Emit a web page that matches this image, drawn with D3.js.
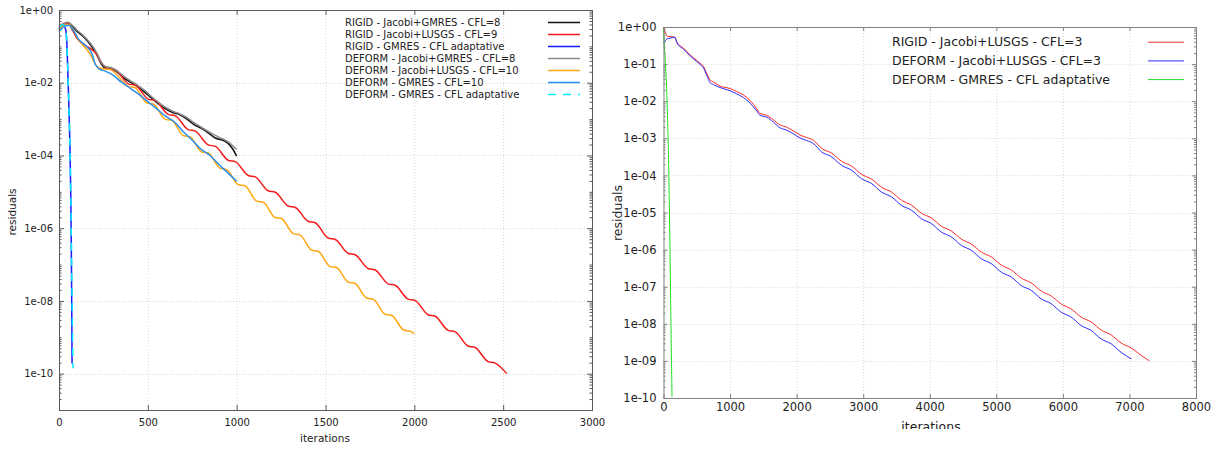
<!DOCTYPE html>
<html>
<head>
<meta charset="utf-8">
<script src="https://cdn.jsdelivr.net/npm/d3@7"></script>
<style>
  html, body { margin: 0; padding: 0; background: #fff; }
  svg { display: block; font-family: "DejaVu Sans", sans-serif; }
</style>
</head>
<body>
<svg id="chart" width="1230" height="449"></svg>
<script>
// ---------- Left panel: convergence histories (iterations vs residuals) ----------
const leftXTicks = [0, 500, 1000, 1500, 2000, 2500, 3000];
const leftYTicks = [1, 1e-2, 1e-4, 1e-6, 1e-8, 1e-10];

const rigidJacGmresIter = [0, 25, 50, 75, 100, 130, 160, 190, 215, 240, 260, 290, 320, 360, 400, 440, 480, 520, 560, 600, 640, 680, 720, 760, 800, 840, 880, 920, 950, 975, 1000];
const rigidJacGmresRes  = [0.316, 0.398, 0.437, 0.355, 0.263, 0.200, 0.141, 8.91e-2, 5.62e-2, 3.16e-2, 2.51e-2, 2.40e-2, 2.09e-2, 1.41e-2, 1.05e-2, 7.94e-3, 5.62e-3, 3.80e-3, 2.63e-3, 1.91e-3, 1.51e-3, 1.32e-3, 1.0e-3, 7.08e-4, 5.62e-4, 4.17e-4, 3.02e-4, 2.63e-4, 2.19e-4, 1.58e-4, 9.55e-5];

const rigidLusgsIter = [0, 25, 50, 75, 100, 150, 200, 250, 277, 317, 390, 430, 502, 542, 615, 655, 727, 767, 840, 880, 952, 992, 1065, 1105, 1177, 1217, 1290, 1330, 1402, 1442, 1515, 1555, 1627, 1667, 1740, 1780, 1852, 1892, 1965, 2005, 2077, 2117, 2190, 2230, 2302, 2342, 2415, 2455, 2520];
const rigidLusgsRes  = [0.355, 0.427, 0.437, 0.282, 0.170, 0.105, 7.08e-2, 3.02e-2, 2.45e-2, 2.24e-2, 9.33e-3, 8.51e-3, 3.55e-3, 3.24e-3, 1.35e-3, 1.23e-3, 5.13e-4, 4.68e-4, 1.95e-4, 1.78e-4, 7.41e-5, 6.76e-5, 2.82e-5, 2.57e-5, 1.07e-5, 9.77e-6, 4.07e-6, 3.72e-6, 1.55e-6, 1.41e-6, 5.37e-7, 4.90e-7, 2.04e-7, 1.86e-7, 7.76e-8, 7.08e-8, 2.95e-8, 2.69e-8, 1.12e-8, 1.02e-8, 4.17e-9, 3.80e-9, 1.55e-9, 1.41e-9, 5.75e-10, 5.25e-10, 2.14e-10, 1.95e-10, 1.0e-10];

const rigidGmresAdaptIter = [0, 10, 20, 30, 38, 45, 51, 57, 62, 66, 69, 71, 72.5, 73.5];
const rigidGmresAdaptRes  = [0.302, 0.355, 0.380, 0.355, 0.282, 0.1, 1.17e-2, 1.26e-3, 1.38e-4, 1.0e-5, 5.01e-7, 2.51e-8, 1.58e-9, 1.91e-10];

const deformJacGmresIter = [0, 25, 50, 75, 100, 130, 160, 190, 215, 240, 260, 290, 320, 360, 400, 440, 480, 520, 560, 600, 640, 680, 720, 760, 800, 840, 880, 920, 950, 975, 1000];
const deformJacGmresRes  = [0.355, 0.417, 0.457, 0.380, 0.282, 0.214, 0.151, 0.1, 6.31e-2, 3.55e-2, 2.82e-2, 2.63e-2, 2.24e-2, 1.58e-2, 1.15e-2, 8.71e-3, 6.31e-3, 4.17e-3, 2.88e-3, 2.09e-3, 1.66e-3, 1.38e-3, 1.10e-3, 7.94e-4, 6.03e-4, 4.57e-4, 3.55e-4, 2.88e-4, 2.40e-4, 1.91e-4, 1.45e-4];

const deformLusgsIter = [0, 30, 55, 80, 110, 150, 180, 205, 230, 290, 390, 430, 493, 533, 596, 636, 699, 739, 802, 842, 905, 945, 1008, 1048, 1111, 1151, 1214, 1254, 1318, 1358, 1421, 1461, 1524, 1564, 1627, 1667, 1730, 1770, 1833, 1873, 1940, 1980, 2000];
const deformLusgsRes  = [0.282, 0.380, 0.398, 0.282, 0.151, 8.91e-2, 5.62e-2, 3.16e-2, 2.51e-2, 2.29e-2, 7.94e-3, 7.24e-3, 2.82e-3, 2.57e-3, 1.0e-3, 9.12e-4, 3.55e-4, 3.24e-4, 1.26e-4, 1.15e-4, 4.47e-5, 4.07e-5, 1.58e-5, 1.45e-5, 5.62e-6, 5.13e-6, 2.00e-6, 1.82e-6, 7.08e-7, 6.46e-7, 2.51e-7, 2.29e-7, 8.91e-8, 8.13e-8, 3.31e-8, 3.02e-8, 1.20e-8, 1.10e-8, 4.37e-9, 3.98e-9, 1.58e-9, 1.45e-9, 1.23e-9];

const deformGmresIter = [0, 30, 55, 80, 110, 150, 185, 205, 225, 260, 300, 350, 400, 450, 500, 550, 600, 650, 700, 750, 800, 850, 900, 950, 1000];
const deformGmresRes  = [0.251, 0.355, 0.380, 0.282, 0.158, 0.105, 6.31e-2, 3.16e-2, 2.40e-2, 2.09e-2, 1.66e-2, 1.05e-2, 7.08e-3, 4.79e-3, 3.02e-3, 1.91e-3, 1.20e-3, 8.32e-4, 4.47e-4, 2.63e-4, 1.48e-4, 1.0e-4, 5.62e-5, 3.31e-5, 1.95e-5];

const deformGmresAdaptIter = [0, 10, 20, 30, 38, 45, 51, 57, 62, 66, 70, 73, 75, 77, 79];
const deformGmresAdaptRes  = [0.316, 0.372, 0.398, 0.372, 0.282, 0.1, 1.17e-2, 1.26e-3, 1.38e-4, 1.0e-5, 3.16e-7, 1.58e-8, 2.51e-9, 5.01e-10, 1.41e-10];

const leftLabels = [
  "RIGID - Jacobi+GMRES - CFL=8",
  "RIGID - Jacobi+LUSGS - CFL=9",
  "RIGID - GMRES - CFL adaptative",
  "DEFORM - Jacobi+GMRES - CFL=8",
  "DEFORM - Jacobi+LUSGS - CFL=10",
  "DEFORM - GMRES - CFL=10",
  "DEFORM - GMRES - CFL adaptative"
];

// ---------- Right panel ----------
const rightXTicks = [0, 1000, 2000, 3000, 4000, 5000, 6000, 7000, 8000];
const rightYTicks = [1, 1e-1, 1e-2, 1e-3, 1e-4, 1e-5, 1e-6, 1e-7, 1e-8, 1e-9, 1e-10];

const rigidLusgs3Iter = [0, 40, 70, 120, 173, 200, 300, 400, 500, 550, 600, 650, 700, 750, 850, 1000, 1100, 1200, 1300, 1400, 1450, 1550, 1650, 1750, 1850, 1950, 2050, 2150, 2250, 2376, 2526, 2676, 2826, 2976, 3126, 3276, 3426, 3576, 3726, 3876, 4026, 4176, 4326, 4476, 4626, 4776, 4926, 5076, 5226, 5376, 5526, 5676, 5826, 5976, 6126, 6276, 6426, 6576, 6726, 6876, 7026, 7176, 7300];
const rigidLusgs3Res  = [0.955, 0.631, 0.550, 0.550, 0.525, 0.398, 0.269, 0.178, 0.126, 0.105, 8.71e-2, 5.62e-2, 3.72e-2, 3.31e-2, 2.57e-2, 2.19e-2, 1.82e-2, 1.48e-2, 1.05e-2, 6.31e-3, 4.68e-3, 4.17e-3, 3.16e-3, 2.29e-3, 2.0e-3, 1.58e-3, 1.23e-3, 1.05e-3, 8.91e-4, 5.37e-4, 3.98e-4, 2.40e-4, 1.78e-4, 1.07e-4, 7.94e-5, 4.79e-5, 3.55e-5, 2.14e-5, 1.58e-5, 9.55e-6, 7.08e-6, 4.27e-6, 3.16e-6, 1.91e-6, 1.41e-6, 8.51e-7, 6.31e-7, 3.80e-7, 2.82e-7, 1.70e-7, 1.26e-7, 7.59e-8, 5.62e-8, 3.39e-8, 2.51e-8, 1.51e-8, 1.12e-8, 6.76e-9, 5.01e-9, 3.02e-9, 2.24e-9, 1.41e-9, 1.0e-9];

const deformLusgs3Iter = [0, 48, 100, 173, 200, 300, 400, 500, 550, 600, 650, 700, 750, 850, 1000, 1100, 1200, 1300, 1400, 1450, 1550, 1650, 1750, 1850, 1950, 2050, 2150, 2250, 2376, 2526, 2676, 2826, 2976, 3126, 3276, 3426, 3576, 3726, 3876, 4026, 4176, 4326, 4476, 4626, 4776, 4926, 5076, 5226, 5376, 5526, 5676, 5826, 5976, 6126, 6276, 6426, 6576, 6726, 6876, 7030];
const deformLusgs3Res  = [0.363, 0.468, 0.501, 0.525, 0.380, 0.251, 0.166, 0.117, 9.77e-2, 7.94e-2, 5.01e-2, 3.16e-2, 2.82e-2, 2.34e-2, 1.91e-2, 1.58e-2, 1.26e-2, 8.91e-3, 5.50e-3, 4.17e-3, 3.72e-3, 2.75e-3, 1.91e-3, 1.66e-3, 1.32e-3, 1.02e-3, 8.71e-4, 7.24e-4, 4.27e-4, 3.16e-4, 1.86e-4, 1.38e-4, 8.13e-5, 6.03e-5, 3.55e-5, 2.63e-5, 1.55e-5, 1.15e-5, 6.76e-6, 5.01e-6, 2.95e-6, 2.19e-6, 1.29e-6, 9.55e-7, 5.62e-7, 4.17e-7, 2.45e-7, 1.82e-7, 1.07e-7, 7.94e-8, 4.68e-8, 3.47e-8, 2.04e-8, 1.51e-8, 8.91e-9, 6.61e-9, 3.89e-9, 2.88e-9, 1.70e-9, 1.12e-9];

const deformGmresAdapt3Iter = [0, 8, 20, 35, 48, 60, 73, 85, 95, 105, 115, 122, 128];
const deformGmresAdapt3Res  = [0.89, 0.40, 0.20, 6.3e-2, 2.0e-2, 4.0e-3, 5.0e-4, 3.2e-5, 2.0e-6, 1.0e-7, 4.0e-9, 6.3e-10, 1.07e-10];

const rightLabels = [
  "RIGID - Jacobi+LUSGS - CFL=3",
  "DEFORM - Jacobi+LUSGS - CFL=3",
  "DEFORM - GMRES - CFL adaptative"
];

// ---------- drawing ----------
const svg = d3.select("#chart");

const expLabel = d => {
  const e = Math.round(Math.log10(d));
  return "1e" + (e < 0 ? "-" : "+") + String(Math.abs(e)).padStart(2, "0");
};

function zipSeries(iters, res) {
  return iters.map((it, i) => [it, res[i]]);
}

function drawPanel(p) {
  const g = svg.append("g");
  const x = d3.scaleLinear().domain(p.xDomain).range([p.x0, p.x1]);
  const y = d3.scaleLog().domain(p.yDomain).range([p.y1, p.y0]);

  // dotted grid at major ticks
  const grid = g.append("g").attr("stroke", "#d6d6d6").attr("stroke-dasharray", "1,2").attr("stroke-width", 1);
  grid.selectAll("line.v").data(p.xTicks.filter(v => v > p.xDomain[0] && v < p.xDomain[1]))
    .join("line").attr("class", "v")
    .attr("x1", d => x(d) + 0.5).attr("x2", d => x(d) + 0.5)
    .attr("y1", p.y0).attr("y2", p.y1);
  grid.selectAll("line.h").data(p.yTicks.filter(v => v > p.yDomain[0] && v < p.yDomain[1]))
    .join("line").attr("class", "h")
    .attr("x1", p.x0).attr("x2", p.x1)
    .attr("y1", d => Math.round(y(d)) + 0.5).attr("y2", d => Math.round(y(d)) + 0.5);

  // minor log ticks
  const minor = [];
  const e0 = Math.round(Math.log10(p.yDomain[0])), e1 = Math.round(Math.log10(p.yDomain[1]));
  for (let e = e0; e < e1; e++) {
    for (let k = 1; k <= 9; k++) {
      const v = k * Math.pow(10, e);
      if (v > p.yDomain[0] * 0.999 && v < p.yDomain[1] * 1.001 && !p.yTicks.some(t => Math.abs(t - v) / v < 1e-6)) minor.push(v);
    }
  }

  const axisColor = p.frame;
  const addAxis = (gen, tx, vals, size, fmt, fs, pad) => {
    const a = g.append("g").attr("transform", tx).attr("color", axisColor)
      .call(gen.tickValues(vals).tickSize(size).tickPadding(pad).tickFormat(fmt));
    a.select(".domain").remove();
    a.attr("font-family", null).attr("font-size", null);
    a.selectAll("text").attr("fill", "#222").style("font-size", fs + "px");
    return a;
  };

  // labelled axes (ticks point inward)
  addAxis(d3.axisLeft(y), `translate(${p.x0},0)`, p.yTicks, -p.major, expLabel, p.tickFont, p.yPad);
  addAxis(d3.axisBottom(x), `translate(0,${p.y1})`, p.xTicks, -p.major, d3.format("d"), p.tickFont, p.xPad);
  // mirrored ticks
  addAxis(d3.axisRight(y), `translate(${p.x1},0)`, p.yTicks, -p.major, () => "", p.tickFont, 0);
  addAxis(d3.axisTop(x), `translate(0,${p.y0})`, p.xTicks, -p.major, () => "", p.tickFont, 0);
  addAxis(d3.axisLeft(y), `translate(${p.x0},0)`, minor, -p.minor, () => "", p.tickFont, 0);
  addAxis(d3.axisRight(y), `translate(${p.x1},0)`, minor, -p.minor, () => "", p.tickFont, 0);

  // series
  const line = d3.line().x(d => x(d[0])).y(d => y(d[1])).curve(d3.curveMonotoneX);
  p.series.forEach(s => {
    g.append("path")
      .datum(zipSeries(s.iter, s.res))
      .attr("fill", "none")
      .attr("stroke", s.color)
      .attr("stroke-width", s.width)
      .attr("stroke-dasharray", s.dash || null)
      .attr("stroke-linejoin", "round")
      .attr("d", line);
  });

  // frame
  g.append("rect")
    .attr("x", p.x0 + 0.5).attr("y", p.y0 + 0.5)
    .attr("width", p.x1 - p.x0).attr("height", p.y1 - p.y0)
    .attr("fill", "none").attr("stroke", p.frame).attr("stroke-width", 1);

  // legend
  const lg = g.append("g");
  p.series.forEach((s, i) => {
    const cy = p.legend.y + i * p.legend.dy;
    lg.append("text")
      .attr("x", p.legend.x).attr("y", cy)
      .attr("dominant-baseline", "central")
      .attr("fill", "#222")
      .style("font-size", p.legend.font + "px")
      .text(s.label);
    lg.append("line")
      .attr("x1", p.legend.lx0).attr("x2", p.legend.lx1)
      .attr("y1", cy + 0.5).attr("y2", cy + 0.5)
      .attr("stroke", s.color)
      .attr("stroke-width", s.width)
      .attr("stroke-dasharray", s.dash || null);
  });

  // axis titles
  const titles = g.append("g").attr("fill", "#222").style("font-size", p.titleFont + "px");
  if (p.clipBottom) {
    const id = "clip" + Math.round(p.x0);
    svg.append("clipPath").attr("id", id).append("rect")
      .attr("x", p.x0 - 80).attr("y", 0).attr("width", p.x1 - p.x0 + 120).attr("height", p.clipBottom);
    titles.attr("clip-path", `url(#${id})`);
  }
  titles.append("text")
    .attr("x", p.xTitle[0]).attr("y", p.xTitle[1])
    .attr("text-anchor", "middle").attr("dominant-baseline", "central")
    .text("iterations");
  titles.append("text")
    .attr("transform", `translate(${p.yTitle[0]},${p.yTitle[1]}) rotate(-90)`)
    .attr("text-anchor", "middle").attr("dominant-baseline", "central")
    .text("residuals");
}

drawPanel({
  x0: 59, x1: 592, y0: 10, y1: 410,
  xDomain: [0, 3000], yDomain: [1e-11, 1],
  xTicks: leftXTicks, yTicks: leftYTicks,
  major: 5, minor: 2.5, tickFont: 10, yPad: 6, xPad: 9,
  frame: "#5a5a5a", titleFont: 10.5,
  xTitle: [325, 438], yTitle: [12, 212],
  legend: { x: 345, y: 22, dy: 12, font: 10, lx0: 548, lx1: 580 },
  series: [
    { label: leftLabels[0], iter: rigidJacGmresIter, res: rigidJacGmresRes, color: "#111111", width: 1.5 },
    { label: leftLabels[1], iter: rigidLusgsIter, res: rigidLusgsRes, color: "#f51b1b", width: 1.5 },
    { label: leftLabels[2], iter: rigidGmresAdaptIter, res: rigidGmresAdaptRes, color: "#1a1aff", width: 1.5 },
    { label: leftLabels[3], iter: deformJacGmresIter, res: deformJacGmresRes, color: "#8a8a8a", width: 1.5 },
    { label: leftLabels[4], iter: deformLusgsIter, res: deformLusgsRes, color: "#ffa812", width: 1.5 },
    { label: leftLabels[5], iter: deformGmresIter, res: deformGmresRes, color: "#2a8ef0", width: 1.5 },
    { label: leftLabels[6], iter: deformGmresAdaptIter, res: deformGmresAdaptRes, color: "#00eeff", width: 1.5, dash: "8,7" }
  ]
});

drawPanel({
  x0: 663.5, x1: 1196, y0: 27, y1: 398,
  xDomain: [0, 8000], yDomain: [1e-10, 1],
  xTicks: rightXTicks, yTicks: rightYTicks,
  major: 4, minor: 2, tickFont: 11.5, yPad: 7, xPad: 5,
  frame: "#808080", titleFont: 12.5,
  xTitle: [931, 426], yTitle: [617, 213], clipBottom: 429,
  legend: { x: 892, y: 41.7, dy: 18.7, font: 12.5, lx0: 1148, lx1: 1184 },
  series: [
    { label: rightLabels[0], iter: rigidLusgs3Iter, res: rigidLusgs3Res, color: "#ff2a2a", width: 1 },
    { label: rightLabels[1], iter: deformLusgs3Iter, res: deformLusgs3Res, color: "#2a2aff", width: 1 },
    { label: rightLabels[2], iter: deformGmresAdapt3Iter, res: deformGmresAdapt3Res, color: "#22dd22", width: 1 }
  ]
});
</script>
</body>
</html>
